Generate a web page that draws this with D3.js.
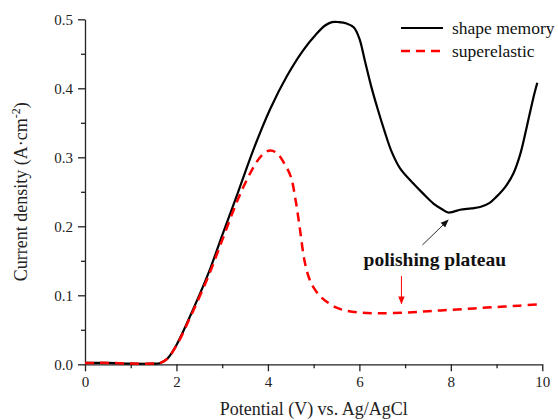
<!DOCTYPE html>
<html>
<head>
<meta charset="utf-8">
<script src="https://cdn.jsdelivr.net/npm/d3@7"></script>
<style>
  body { margin: 0; background: #fff; }
  .axis path, .axis line { stroke: #222; stroke-width: 1.3; }
  .axis text { font-size: 15px; fill: #222; }
</style>
</head>
<body>
<div id="chart"></div>
<script>
const FONT = "'Liberation Serif', 'Times New Roman', Times, 'DejaVu Serif', serif";

// shape memory curve (potential V, current density A/cm2)
const shapeV = [0, 0.5, 1.0, 1.5, 1.65, 1.8, 2.0, 2.3, 2.7, 3.0, 3.35, 3.7, 4.05, 4.41, 4.77, 5.05, 5.25, 5.4, 5.55, 5.72, 5.88, 6.0, 6.12, 6.25, 6.4, 6.55, 6.7, 6.89, 7.18, 7.4, 7.62, 7.8, 7.94, 8.05, 8.2, 8.45, 8.64, 8.85, 9.0, 9.2, 9.37, 9.52, 9.66, 9.8, 9.89];
const shapeI = [0.002, 0.002, 0.001, 0.001, 0.002, 0.008, 0.028, 0.070, 0.132, 0.187, 0.250, 0.314, 0.370, 0.417, 0.455, 0.478, 0.491, 0.496, 0.496, 0.494, 0.488, 0.472, 0.440, 0.405, 0.370, 0.338, 0.309, 0.284, 0.262, 0.247, 0.233, 0.225, 0.220, 0.221, 0.224, 0.226, 0.228, 0.234, 0.243, 0.258, 0.277, 0.305, 0.344, 0.385, 0.408];

// superelastic curve
const superV = [0, 0.5, 1.0, 1.5, 1.65, 1.8, 2.0, 2.3, 2.7, 3.0, 3.3, 3.5, 3.75, 3.9, 4.05, 4.2, 4.35, 4.5, 4.6, 4.7, 4.8, 4.9, 5.0, 5.15, 5.3, 5.5, 5.7, 6.0, 6.4, 7.0, 7.5, 8.0, 8.5, 9.0, 9.5, 9.95];
const superI = [0.002, 0.002, 0.001, 0.001, 0.002, 0.008, 0.027, 0.068, 0.128, 0.180, 0.232, 0.262, 0.293, 0.305, 0.310, 0.306, 0.292, 0.272, 0.240, 0.196, 0.150, 0.125, 0.111, 0.098, 0.090, 0.082, 0.078, 0.075, 0.074, 0.075, 0.077, 0.079, 0.081, 0.083, 0.085, 0.087];

const xTicks = [0, 2, 4, 6, 8, 10];
const yTicks = [0.0, 0.1, 0.2, 0.3, 0.4, 0.5];
const seriesNames = ["shape memory", "superelastic"];

// annotation anchor points in data units
const plateauLabel = { v: 7.65, i: 0.142, text: "polishing plateau" };
const blackArrow = { from: [7.38, 0.173], to: [7.94, 0.209] };
const redArrow = { from: [6.92, 0.128], to: [6.92, 0.088] };

const width = 558, height = 420;

const svg = d3.select("#chart").append("svg")
  .attr("width", width).attr("height", height)
  .style("font-family", FONT);

const x = d3.scaleLinear().domain([0, 10]).range([85, 542.3]);
const y = d3.scaleLinear().domain([0, 0.5]).range([364.3, 19.3]);

// minor ticks first, then the major axis
svg.append("g").attr("class", "axis")
  .attr("transform", `translate(0,${y(0)})`)
  .call(d3.axisBottom(x).tickValues(d3.range(1, 10, 2)).tickSize(4).tickFormat(""))
  .call((g) => g.select("path").remove());
svg.append("g").attr("class", "axis")
  .attr("transform", `translate(${x(0)},0)`)
  .call(d3.axisLeft(y).tickValues(d3.range(0.05, 0.5, 0.1)).tickSize(4).tickFormat(""))
  .call((g) => g.select("path").remove());

svg.append("g").attr("class", "axis")
  .attr("transform", `translate(0,${y(0)})`)
  .call(d3.axisBottom(x).tickValues(xTicks).tickSize(7).tickSizeOuter(0).tickPadding(5).tickFormat(d3.format("d")))
  .attr("font-family", FONT);
svg.append("g").attr("class", "axis")
  .attr("transform", `translate(${x(0)},0)`)
  .call(d3.axisLeft(y).tickValues(yTicks).tickSize(7).tickSizeOuter(0).tickPadding(5).tickFormat(d3.format(".1f")))
  .attr("font-family", FONT);

const line = d3.line().x((d) => x(d[0])).y((d) => y(d[1])).curve(d3.curveCatmullRom.alpha(0.5));

svg.append("path")
  .datum(shapeV.map((v, k) => [v, shapeI[k]]))
  .attr("fill", "none").attr("stroke", "#000").attr("stroke-width", 2.2)
  .attr("d", line);

svg.append("path")
  .datum(superV.map((v, k) => [v, superI[k]]))
  .attr("fill", "none").attr("stroke", "#f00").attr("stroke-width", 2.5)
  .attr("stroke-dasharray", "9,6")
  .attr("d", line);

// legend
const legend = svg.append("g").attr("transform", "translate(401,28)");
seriesNames.forEach((name, k) => {
  const row = legend.append("g").attr("transform", `translate(0,${k * 23})`);
  row.append("line").attr("x1", 0).attr("x2", 42)
    .attr("stroke", k ? "#f00" : "#000").attr("stroke-width", k ? 2.5 : 2.2)
    .attr("stroke-dasharray", k ? "9,6" : null);
  row.append("text").attr("x", 51).attr("dy", "0.32em")
    .attr("font-size", 17.5).attr("fill", "#111").text(name);
});

// annotations
const defs = svg.append("defs");
[["arrowBlack", "#111"], ["arrowRed", "#f00"]].forEach(([id, c]) => {
  defs.append("marker").attr("id", id).attr("viewBox", "0 0 10 10")
    .attr("refX", 9).attr("refY", 5).attr("markerWidth", 8).attr("markerHeight", 8)
    .attr("markerUnits", "userSpaceOnUse").attr("orient", "auto")
    .append("path").attr("d", "M0,1L10,5L0,9Z").attr("fill", c);
});

svg.append("line")
  .attr("x1", x(blackArrow.from[0])).attr("y1", y(blackArrow.from[1]))
  .attr("x2", x(blackArrow.to[0])).attr("y2", y(blackArrow.to[1]))
  .attr("stroke", "#111").attr("stroke-width", 0.9).attr("marker-end", "url(#arrowBlack)");

svg.append("line")
  .attr("x1", x(redArrow.from[0])).attr("y1", y(redArrow.from[1]))
  .attr("x2", x(redArrow.to[0])).attr("y2", y(redArrow.to[1]))
  .attr("stroke", "#f00").attr("stroke-width", 1).attr("marker-end", "url(#arrowRed)");

svg.append("text")
  .attr("x", x(plateauLabel.v)).attr("y", y(plateauLabel.i))
  .attr("text-anchor", "middle").attr("font-size", 19.5).attr("font-weight", "bold")
  .attr("fill", "#111").text(plateauLabel.text);

// axis titles
svg.append("text")
  .attr("x", (x(0) + x(10)) / 2).attr("y", 415)
  .attr("text-anchor", "middle").attr("font-size", 18).attr("fill", "#222")
  .text("Potential (V) vs. Ag/AgCl");

const yTitle = svg.append("text")
  .attr("transform", `translate(27,${(y(0) + y(0.5)) / 2}) rotate(-90)`)
  .attr("text-anchor", "middle").attr("font-size", 18).attr("fill", "#222");
yTitle.append("tspan").text("Current density (A·cm");
yTitle.append("tspan").attr("font-size", 12).attr("dy", -7).text("-2");
yTitle.append("tspan").attr("dy", 7).text(")");
</script>
</body>
</html>
